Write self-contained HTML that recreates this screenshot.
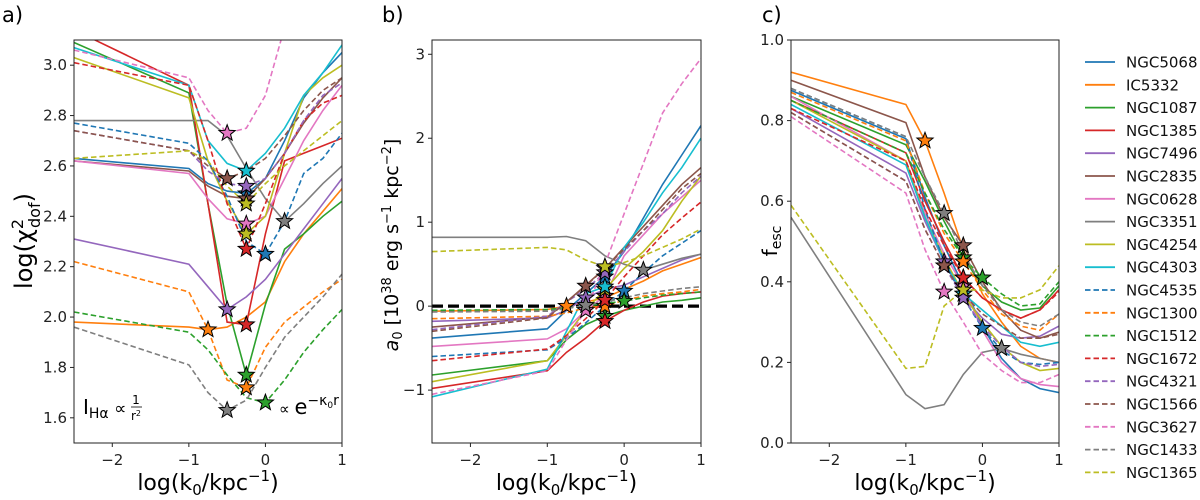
<!DOCTYPE html>
<html><head><meta charset="utf-8">
<style>
body{margin:0;background:#fff;}
svg{display:block;font-family:"DejaVu Sans","Liberation Sans",sans-serif;}
</style></head>
<body>
<svg id="chart" width="1200" height="500" viewBox="0 0 1200 500" xmlns="http://www.w3.org/2000/svg"></svg>
<script>
const kGrid = [-2.5,-1,-0.75,-0.5,-0.25,0,0.25,0.5,0.75,1];
const names = ["NGC5068","IC5332","NGC1087","NGC1385","NGC7496","NGC2835","NGC0628","NGC3351","NGC4254","NGC4303","NGC4535","NGC1300","NGC1512","NGC1672","NGC4321","NGC1566","NGC3627","NGC1433","NGC1365"];
const bestIdx = [4,2,4,4,3,4,4,6,4,4,5,4,5,4,4,3,3,3,4];
const chi2 = [
[2.63,2.59,2.53,2.50,2.49,2.55,2.70,2.87,2.97,3.05],
[1.98,1.96,1.95,1.96,2.00,2.06,2.22,2.33,2.42,2.51],
[3.09,2.89,2.45,2.05,1.77,2.05,2.27,2.33,2.40,2.46],
[3.14,2.92,2.45,1.98,1.97,2.33,2.62,2.65,2.68,2.71],
[2.31,2.21,2.12,2.03,2.08,2.15,2.25,2.35,2.45,2.55],
[2.62,2.58,2.52,2.48,2.47,2.55,2.65,2.77,2.87,2.95],
[2.62,2.57,2.47,2.39,2.37,2.40,2.55,2.70,2.82,2.92],
[2.78,2.78,2.78,2.72,2.59,2.47,2.38,2.45,2.53,2.60],
[3.03,2.87,2.62,2.46,2.33,2.40,2.65,2.88,2.95,3.00],
[3.07,2.92,2.70,2.61,2.58,2.65,2.75,2.88,2.97,3.08],
[2.77,2.69,2.62,2.48,2.30,2.25,2.38,2.57,2.63,2.73],
[2.22,2.10,1.95,1.75,1.72,1.88,1.98,2.04,2.10,2.15],
[2.02,1.94,1.87,1.77,1.68,1.66,1.75,1.86,1.95,2.03],
[3.01,2.92,2.70,2.45,2.27,2.45,2.65,2.78,2.85,2.88],
[2.74,2.66,2.58,2.53,2.52,2.55,2.65,2.78,2.88,2.93],
[2.74,2.66,2.60,2.55,2.58,2.63,2.72,2.82,2.90,2.95],
[3.06,2.95,2.82,2.73,2.75,2.88,3.15,3.30,3.40,3.50],
[1.96,1.81,1.70,1.63,1.67,1.80,1.92,2.00,2.08,2.17],
[2.63,2.66,2.62,2.52,2.45,2.53,2.60,2.66,2.72,2.78]];
const a0 = [
[-0.38,-0.27,-0.05,0.15,0.35,0.65,1.05,1.45,1.80,2.15],
[-0.06,-0.04,0.00,0.05,0.10,0.20,0.30,0.42,0.50,0.58],
[-0.82,-0.65,-0.40,-0.22,-0.12,-0.05,0.00,0.05,0.07,0.10],
[-0.98,-0.77,-0.55,-0.38,-0.18,-0.05,0.05,0.12,0.15,0.17],
[-0.18,-0.14,-0.05,0.10,0.20,0.25,0.35,0.45,0.55,0.62],
[-0.25,-0.13,0.05,0.25,0.45,0.70,0.95,1.20,1.45,1.65],
[-0.48,-0.39,-0.27,-0.05,0.12,0.60,0.85,1.10,1.30,1.50],
[0.82,0.82,0.83,0.78,0.60,0.50,0.43,0.50,0.57,0.62],
[-0.90,-0.65,-0.35,-0.05,0.20,0.45,0.65,0.90,1.25,1.55],
[-1.08,-0.75,-0.30,0.15,0.23,0.70,1.00,1.35,1.65,2.00],
[-0.60,-0.52,-0.38,-0.20,0.00,0.18,0.40,0.60,0.75,0.90],
[-0.15,-0.12,-0.08,-0.02,0.00,0.07,0.12,0.15,0.17,0.20],
[-0.05,-0.04,-0.02,0.00,0.03,0.06,0.10,0.13,0.15,0.17],
[-0.65,-0.51,-0.35,-0.15,0.07,0.35,0.60,0.85,1.05,1.24],
[-0.28,-0.12,0.05,0.20,0.40,0.65,0.90,1.10,1.35,1.55],
[-0.30,-0.14,0.05,0.24,0.45,0.68,0.90,1.15,1.40,1.58],
[-1.05,-0.77,-0.40,-0.05,0.50,1.10,1.70,2.30,2.65,2.95],
[-0.07,-0.06,-0.03,0.01,0.05,0.10,0.15,0.18,0.21,0.23],
[0.65,0.70,0.67,0.55,0.47,0.52,0.60,0.70,0.80,0.92]];
const fesc = [
[0.875,0.755,0.61,0.49,0.39,0.29,0.21,0.16,0.135,0.125],
[0.92,0.84,0.75,0.62,0.48,0.37,0.30,0.24,0.21,0.20],
[0.86,0.74,0.65,0.55,0.46,0.39,0.35,0.33,0.335,0.39],
[0.85,0.72,0.60,0.50,0.41,0.36,0.33,0.31,0.33,0.38],
[0.83,0.67,0.55,0.45,0.36,0.31,0.27,0.26,0.265,0.29],
[0.90,0.795,0.66,0.56,0.49,0.40,0.33,0.28,0.26,0.275],
[0.86,0.70,0.57,0.47,0.39,0.28,0.20,0.16,0.145,0.14],
[0.56,0.12,0.085,0.095,0.17,0.225,0.235,0.22,0.21,0.20],
[0.85,0.70,0.56,0.46,0.37,0.30,0.24,0.20,0.18,0.185],
[0.84,0.69,0.56,0.45,0.37,0.33,0.29,0.25,0.24,0.25],
[0.88,0.76,0.58,0.45,0.36,0.285,0.23,0.20,0.195,0.20],
[0.87,0.75,0.62,0.52,0.45,0.38,0.32,0.29,0.28,0.32],
[0.85,0.72,0.62,0.53,0.46,0.41,0.37,0.34,0.345,0.40],
[0.83,0.70,0.58,0.49,0.41,0.36,0.33,0.31,0.33,0.375],
[0.82,0.65,0.53,0.44,0.36,0.29,0.24,0.20,0.19,0.195],
[0.82,0.65,0.53,0.44,0.37,0.32,0.29,0.26,0.26,0.27],
[0.81,0.62,0.48,0.375,0.30,0.22,0.18,0.15,0.15,0.17],
[0.88,0.76,0.66,0.57,0.47,0.39,0.33,0.30,0.29,0.32],
[0.59,0.185,0.19,0.34,0.38,0.38,0.36,0.36,0.38,0.44]];
const xTicks = [-2,-1,0,1];
const yTicksA = [1.6,1.8,2.0,2.2,2.4,2.6,2.8,3.0];
const yTicksB = [-1,0,1,2,3];
const yTicksC = [0.0,0.2,0.4,0.6,0.8,1.0];

const colors = ["#1f77b4","#ff7f0e","#2ca02c","#d62728","#9467bd","#8c564b","#e377c2","#7f7f7f","#bcbd22","#17becf"];
const NS = "http://www.w3.org/2000/svg";
const svg = document.getElementById('chart');
function mk(tag, attrs, parent){const e=document.createElementNS(NS,tag);for(const k in attrs)e.setAttribute(k,attrs[k]);(parent||svg).appendChild(e);return e;}
function fmt(v,dec){const s=v.toFixed(dec);return s.replace('-','\u2212');}

const panels = [
 {key:'a', left:74, right:342, top:40, bottom:443, ymin:1.5, ymax:3.1, data:chi2, ticks:yTicksA, dec:1, label:'a)', lx:2},
 {key:'b', left:432, right:701, top:40, bottom:443, ymin:-1.63, ymax:3.17, data:a0, ticks:yTicksB, dec:0, label:'b)', lx:382},
 {key:'c', left:791, right:1059, top:40, bottom:443, ymin:0, ymax:1.0, data:fesc, ticks:yTicksC, dec:1, label:'c)', lx:762}
];
const defs = mk('defs',{});
function starPath(cx,cy,R){const r=R*0.42;let d='';for(let i=0;i<10;i++){const a=-Math.PI/2+i*Math.PI/5;const rr=i%2?r:R;d+=(i?'L':'M')+(cx+rr*Math.cos(a)).toFixed(2)+','+(cy+rr*Math.sin(a)).toFixed(2);}return d+'Z';}

panels.forEach(p=>{
  const xS = v => p.left + (v+2.5)/3.5*(p.right-p.left);
  const yS = v => p.bottom - (v-p.ymin)/(p.ymax-p.ymin)*(p.bottom-p.top);
  const g = mk('g',{});
  
  
  const cp = mk('clipPath',{id:'clip-'+p.key},defs);
  mk('rect',{x:p.left,y:p.top,width:p.right-p.left,height:p.bottom-p.top},cp);
  const lg = mk('g',{'clip-path':'url(#clip-'+p.key+')'},g);
  if(p.key==='b'){
    const zl = mk('line',{x1:p.left,x2:p.right,y1:yS(0),y2:yS(0),stroke:'#000','stroke-width':3.2,'stroke-dasharray':'11,5'},lg);
    
    
  }
  p.data.forEach((s,i)=>{
    const pts = s.map((v,j)=>xS(kGrid[j]).toFixed(1)+','+yS(v).toFixed(1)).join(' ');
    const pl = mk('polyline',{points:pts,fill:'none',stroke:colors[i%10],'stroke-width':1.6,'stroke-dasharray':i>=10?'5.5,3':'none'},lg);
    
    
  });
  p.data.forEach((s,i)=>{
    const j=bestIdx[i];
    const st = mk('path',{d:starPath(xS(kGrid[j]),yS(s[j]),8.5),fill:colors[i%10],stroke:'#000','stroke-width':1},lg);
    
    
  });
  const fr = mk('rect',{x:p.left,y:p.top,width:p.right-p.left,height:p.bottom-p.top,fill:'none',stroke:'#222','stroke-width':1},g);
  
  
  xTicks.forEach(t=>{
    const x=xS(t);
    mk('line',{x1:x,x2:x,y1:p.bottom,y2:p.bottom+4,stroke:'#222'},g);
    const tx=mk('text',{x:x,y:p.bottom+22,'font-size':15,'text-anchor':'middle',fill:'#222'},g);
    tx.textContent=fmt(t,0);
    
    
  });
  p.ticks.forEach(t=>{
    const y=yS(t);
    mk('line',{x1:p.left-4,x2:p.left,y1:y,y2:y,stroke:'#222'},g);
    const tx=mk('text',{x:p.left-7,y:y+5,'font-size':15,'text-anchor':'end',fill:'#222'},g);
    tx.textContent=fmt(t,p.dec);
    
    
  });
  const xl = mk('text',{x:(p.left+p.right)/2,y:490,'font-size':22,'text-anchor':'middle',fill:'#000'},g);
  xl.innerHTML='log(k<tspan font-size="15" dy="5">0</tspan><tspan dy="-5">/kpc</tspan><tspan font-size="15" dy="-9">\u22121</tspan><tspan dy="9">)</tspan>';
  
  
  const pl = mk('text',{x:p.lx,y:22,'font-size':21,fill:'#000'},g);
  pl.textContent=p.label;
  
  
});

// y axis titles
let yt = mk('text',{x:0,y:0,'font-size':24,'text-anchor':'middle',transform:'translate(32,241) rotate(-90)'});
yt.innerHTML='log(\u03c7<tspan font-size="16" dy="-9">2</tspan><tspan font-size="16" dy="17" dx="-9">dof</tspan><tspan dy="-8">)</tspan>';


yt = mk('text',{x:0,y:0,'font-size':19,'text-anchor':'middle',transform:'translate(398,245) rotate(-90)'});
yt.innerHTML='<tspan font-style="italic">a</tspan><tspan font-size="13" dy="4">0</tspan><tspan dy="-4"> [10</tspan><tspan font-size="13" dy="-7">38</tspan><tspan dy="7"> erg s</tspan><tspan font-size="13" dy="-7">\u22121</tspan><tspan dy="7"> kpc</tspan><tspan font-size="13" dy="-7">\u22122</tspan><tspan dy="7">]</tspan>';


yt = mk('text',{x:0,y:0,'font-size':20,'text-anchor':'middle',transform:'translate(777,241) rotate(-90)'});
yt.innerHTML='f<tspan font-size="14" dy="4">esc</tspan>';



// annotations
let an = mk('text',{x:83,y:414,'font-size':20,fill:'#000'});
an.innerHTML='I<tspan font-size="14" dy="4">H\u03b1</tspan><tspan dy="-4" font-size="17"> \u221d </tspan>';


let fr1 = mk('text',{x:136,y:404,'font-size':12,'text-anchor':'middle'});fr1.textContent='1';


mk('line',{x1:131,x2:142,y1:407,y2:407,stroke:'#000','stroke-width':0.8});
let fr2 = mk('text',{x:136,y:420,'font-size':12,'text-anchor':'middle'});fr2.innerHTML='r<tspan font-size="8" dy="-4">2</tspan>';


an = mk('text',{x:279,y:414,'font-size':15,fill:'#000'});
an.innerHTML='\u221d <tspan font-size="21">e</tspan><tspan font-size="14" dy="-9">\u2212\u03ba</tspan><tspan font-size="9" dy="3">0</tspan><tspan font-size="14" dy="-3">r</tspan>';



// legend
const leg = mk('g',{});


names.forEach((n,i)=>{
  const y = 62 + i*22.8;
  const e = mk('g',{},leg);
  
  
  mk('line',{x1:1085,x2:1115,y1:y,y2:y,stroke:colors[i%10],'stroke-width':1.8,'stroke-dasharray':i>=10?'5.5,3':'none'},e);
  const t = mk('text',{x:1126,y:y+5.5,'font-size':15,fill:'#111'},e);
  t.textContent=n;
});
</script>
</body></html>
